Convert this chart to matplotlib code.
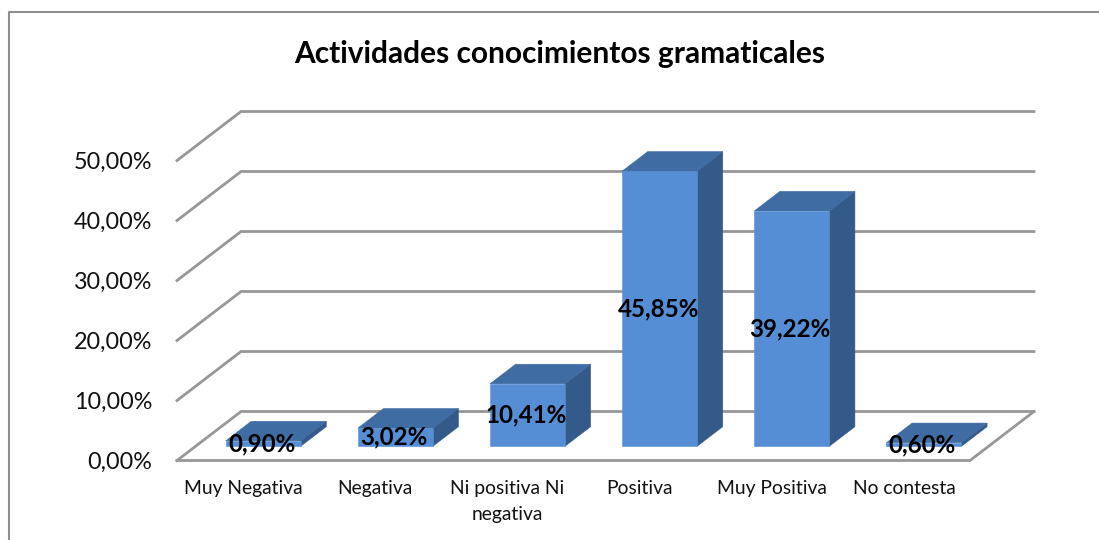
import matplotlib
matplotlib.use("Agg")
import matplotlib.pyplot as plt
from matplotlib.lines import Line2D
from matplotlib.patches import Polygon

categories = ["Muy Negativa", "Negativa", "Ni positiva Ni\nnegativa", "Positiva", "Muy Positiva", "No contesta"]
values = [0.90, 3.02, 10.41, 45.85, 39.22, 0.60]
value_labels = ["0,90%", "3,02%", "10,41%", "45,85%", "39,22%", "0,60%"]
grid_values = [0, 10, 20, 30, 40, 50]
grid_labels = ["0,00%", "10,00%", "20,00%", "30,00%", "40,00%", "50,00%"]
title = "Actividades conocimientos gramaticales"

W, H = 1099, 540
plt.rcParams["font.family"] = ["Lato", "DejaVu Sans"]
fig = plt.figure(figsize=(W / 100, H / 100), dpi=100)
L, R, T, B = 177, 970, 160.5, 460.5
ax = fig.add_axes([L / W, 1 - B / H, (R - L) / W, (B - T) / H])
ax.set_xlim(0, len(categories))
ax.set_ylim(0, 50)
for s in ax.spines.values():
    s.set_visible(False)
ax.patch.set_visible(False)

DX = 64 / ((R - L) / len(categories))   # floor depth in category units
DY = 49 / ((B - T) / 50)                # floor depth in value units
GRID = "#979797"
FRONT, TOP, SIDE = "#558ED5", "#3F6CA3", "#345A8A"


def p(x, v, d=0.0):
    """Oblique projection of category x, value v at depth d."""
    return (x + d * DX, v + d * DY)


nc = len(categories)
for v in grid_values:
    a, b, c = p(0, v), p(0, v, 1), p(nc, v, 1)
    ax.add_line(Line2D([a[0], b[0], c[0]], [a[1], b[1], c[1]], color=GRID, lw=2.0,
                       clip_on=False, zorder=1, solid_joinstyle="miter"))
a, b, c = p(0, 0), p(nc, 0), p(nc, 0, 1)
ax.add_line(Line2D([a[0], b[0], c[0]], [a[1], b[1], c[1]], color=GRID, lw=2.0,
                   clip_on=False, zorder=1, solid_joinstyle="miter"))

BW = 75 / ((R - L) / nc)
D0, D1 = 0.29, 0.69
XS = 1.5 / ((R - L) / nc)
for i, v in enumerate(values):
    x0, x1 = i + 0.5 - BW / 2 + XS, i + 0.5 + BW / 2 + XS
    front = [p(x0, 0, D0), p(x1, 0, D0), p(x1, v, D0), p(x0, v, D0)]
    top = [p(x0, v, D0), p(x1, v, D0), p(x1, v, D1), p(x0, v, D1)]
    side = [p(x1, 0, D0), p(x1, 0, D1), p(x1, v, D1), p(x1, v, D0)]
    for pts, col in ((side, SIDE), (top, TOP), (front, FRONT)):
        ax.add_patch(Polygon(pts, closed=True, facecolor=col, edgecolor=col, lw=0.4,
                             clip_on=False, zorder=3))
    cx, cy = p(i + 0.5, v / 2, D0)
    ax.text(cx, cy, value_labels[i], ha="center", va="center", fontsize=17.4,
            fontweight="bold", color="black", zorder=5, clip_on=False)

ax.set_xticks([i + 0.5 for i in range(nc)], categories, fontsize=13.9, linespacing=1.62, va="top")
ax.set_yticks(grid_values, grid_labels, fontsize=16.8)
ax.tick_params(axis="both", length=0, colors="#111111")
ax.tick_params(axis="x", pad=14)
ax.tick_params(axis="y", pad=18)

fig.text(560 / W, 1 - 54 / H, title, ha="center", va="center", fontsize=21.5, fontweight="bold", color="black")

# outer chart frame
FR = "#8e8e8e"
fig.add_artist(Line2D([9 / W, 9 / W, 1], [0, 1 - 12 / H, 1 - 12 / H], color=FR, lw=1.5,
                      transform=fig.transFigure))
fig.savefig("out.png", dpi=100, facecolor="white")
